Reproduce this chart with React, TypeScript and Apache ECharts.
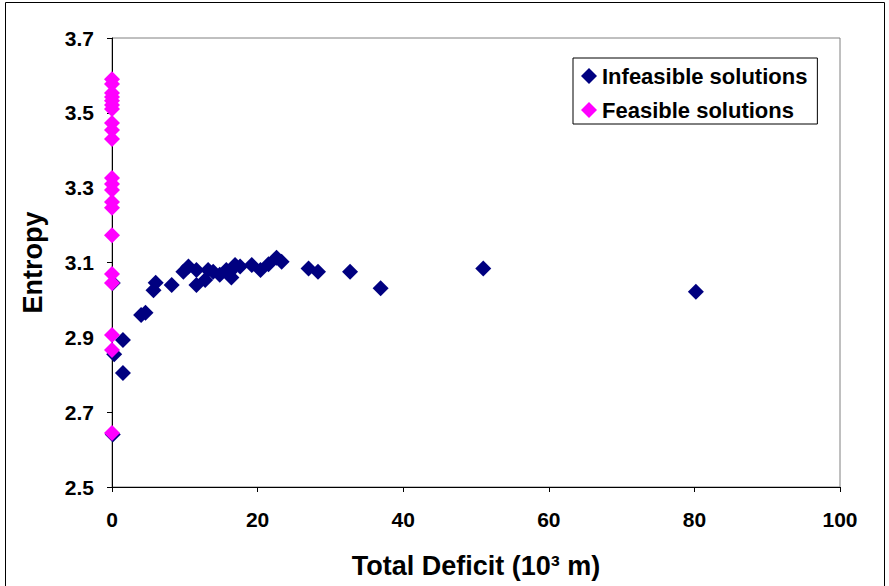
import React, { useEffect, useRef } from "react";
import * as echarts from "echarts";

const infeasibleDeficit = [0.1, 0.1, 0.3, 1.5, 1.5, 4.0, 4.6, 5.7, 6.0, 8.2, 9.8, 10.5, 11.6, 11.6, 12.8, 13.2, 13.9, 14.8, 15.7, 16.2, 16.4, 16.9, 17.6, 19.2, 20.4, 21.5, 22.6, 23.3, 27.0, 28.3, 32.7, 36.9, 51.0, 80.2];
const infeasibleEntropy = [2.64, 3.045, 2.855, 2.893, 2.805, 2.96, 2.966, 3.026, 3.046, 3.04, 3.075, 3.089, 3.08, 3.04, 3.053, 3.08, 3.075, 3.067, 3.08, 3.075, 3.06, 3.093, 3.089, 3.093, 3.08, 3.095, 3.113, 3.102, 3.084, 3.075, 3.075, 3.031, 3.084, 3.022];

const feasibleDeficit = [0, 0, 0, 0, 0, 0, 0, 0, 0, 0, 0, 0, 0, 0, 0, 0, 0, 0, 0, 0, 0];
const feasibleEntropy = [3.59, 3.577, 3.553, 3.542, 3.532, 3.521, 3.51, 3.473, 3.454, 3.43, 3.326, 3.31, 3.294, 3.262, 3.246, 3.173, 3.069, 3.045, 2.906, 2.866, 2.644];

const yTicks = [2.5, 2.7, 2.9, 3.1, 3.3, 3.5, 3.7];
const seriesNames = ["Infeasible solutions", "Feasible solutions"];

const FONT = '"Liberation Sans", Arial, Helvetica, sans-serif';

export default function App() {
  const ref = useRef<HTMLDivElement>(null);
  useEffect(() => {
    if (!ref.current) return;
    const chart = echarts.init(ref.current, null, { renderer: "svg" });
    const toPairs = (xs: number[], ys: number[]) => xs.map((x, i) => [x, ys[i]]);
    chart.setOption({
      animation: false,
      backgroundColor: "#ffffff",
      textStyle: { fontFamily: FONT },
      graphic: [
        {
          type: "rect",
          shape: { x: 5.5, y: 2.5, width: 879, height: 620 },
          style: { fill: "none", stroke: "#000", lineWidth: 1 },
          silent: true,
          z: -10,
        },
      ],
      grid: {
        left: 112,
        right: 49,
        top: 38,
        bottom: 99,
        show: true,
        borderColor: "#808080",
        borderWidth: 1,
        backgroundColor: "transparent",
      },
      legend: {
        orient: "vertical",
        left: 573,
        top: 58,
        padding: [7, 10, 3, 8],
        itemGap: 12,
        itemWidth: 16,
        itemHeight: 16,
        itemTextGap: 5,
        borderColor: "#000",
        borderWidth: 1,
        backgroundColor: "#fff",
        data: seriesNames.map((n) => ({ name: n, icon: "diamond" })),
        textStyle: { fontFamily: FONT, fontSize: 22, fontWeight: "bold", color: "#000" },
      },
      xAxis: {
        type: "value",
        min: 0,
        max: 100,
        interval: 20,
        splitLine: { show: false },
        axisLine: { show: true, onZero: false, lineStyle: { color: "#000", width: 1 } },
        axisTick: { show: true, length: 5, lineStyle: { color: "#000" } },
        axisLabel: { margin: 22, fontFamily: FONT, fontSize: 21, fontWeight: "bold", color: "#000" },
        name: "Total Deficit (10³ m)",
        nameLocation: "middle",
        nameGap: 65,
        nameTextStyle: { fontFamily: FONT, fontSize: 27, fontWeight: "bold", color: "#000" },
      },
      yAxis: {
        type: "value",
        min: 2.5,
        max: 3.7,
        splitLine: { show: false },
        axisLine: { show: true, onZero: false, lineStyle: { color: "#000", width: 1 } },
        axisTick: { show: true, length: 5, customValues: yTicks, lineStyle: { color: "#000" } },
        axisLabel: {
          margin: 18,
          customValues: yTicks,
          formatter: (v: number) => v.toFixed(1),
          fontFamily: FONT,
          fontSize: 21,
          fontWeight: "bold",
          color: "#000",
        },
        name: "Entropy",
        nameLocation: "middle",
        nameRotate: 90,
        nameGap: 66,
        nameTextStyle: { fontFamily: FONT, fontSize: 27, fontWeight: "bold", color: "#000" },
      },
      series: [
        {
          name: seriesNames[0],
          type: "scatter",
          symbol: "diamond",
          symbolSize: 16,
          itemStyle: { color: "#000080", opacity: 1 },
          data: toPairs(infeasibleDeficit, infeasibleEntropy),
          z: 2,
        },
        {
          name: seriesNames[1],
          type: "scatter",
          symbol: "diamond",
          symbolSize: 16,
          itemStyle: { color: "#FF00FF", opacity: 1 },
          data: toPairs(feasibleDeficit, feasibleEntropy),
          z: 3,
        },
      ],
    });
    return () => chart.dispose();
  }, []);
  return (
    <div
      ref={ref}
      style={{ position: "fixed", left: 0, top: 0, width: 889, height: 586 }}
    />
  );
}
